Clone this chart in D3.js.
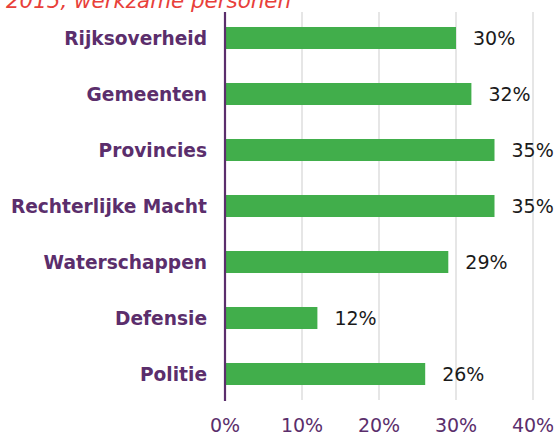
<!DOCTYPE html>
<html><head><meta charset="utf-8">
<script src="https://cdn.jsdelivr.net/npm/d3@7"></script>
<style>body{margin:0;background:#fff}svg{display:block}</style>
</head><body>
<script>
const categories = ["Rijksoverheid","Gemeenten","Provincies","Rechterlijke Macht","Waterschappen","Defensie","Politie"];
const values = [30,32,35,35,29,12,26];
const ticks = [0,10,20,30,40];
const title = "2015, werkzame personen";

const W=558,H=434;
const svg=d3.select("body").append("svg").attr("width",W).attr("height",H);
const x=d3.scaleLinear().domain([0,40]).range([225,533]);
const y=d3.scaleBand().domain(categories).range([10,402]).paddingInner(0.607).paddingOuter(0.3035);
const purple="#5b2e6c";

svg.append("text").attr("x",6).attr("y",8).attr("font-family","DejaVu Sans").attr("font-style","italic")
  .attr("font-size",21.4).attr("fill","#e8403a").text(title);

svg.append("g").selectAll("line").data(ticks.slice(1)).join("line")
  .attr("x1",d=>x(d)).attr("x2",d=>x(d)).attr("y1",12).attr("y2",400)
  .attr("stroke","#d9d9d9").attr("stroke-width",1.3);

svg.append("g").selectAll("rect").data(values).join("rect")
  .attr("x",x(0)).attr("y",(d,i)=>y(categories[i])).attr("width",d=>x(d)-x(0)).attr("height",y.bandwidth())
  .attr("fill","#41ae4b");

svg.append("line").attr("x1",x(0)).attr("x2",x(0)).attr("y1",12).attr("y2",401)
  .attr("stroke",purple).attr("stroke-width",2.2);

svg.append("g").selectAll("text").data(values).join("text")
  .attr("x",d=>x(d)+17).attr("y",(d,i)=>y(categories[i])+y.bandwidth()/2).attr("dy","0.36em")
  .attr("font-family","DejaVu Sans").attr("font-size",19).attr("fill","#1a1a1a").text(d=>d+"%");

svg.append("g").selectAll("text").data(categories).join("text")
  .attr("x",207).attr("y",d=>y(d)+y.bandwidth()/2).attr("dy","0.36em").attr("text-anchor","end")
  .attr("font-family","DejaVu Sans").attr("font-weight","bold").attr("font-size",18.6).attr("fill",purple).text(d=>d);

svg.append("g").selectAll("text").data(ticks).join("text")
  .attr("x",d=>x(d)).attr("y",432).attr("text-anchor","middle")
  .attr("font-family","DejaVu Sans").attr("font-size",19).attr("fill",purple).text(d=>d+"%");
</script>
</body></html>
